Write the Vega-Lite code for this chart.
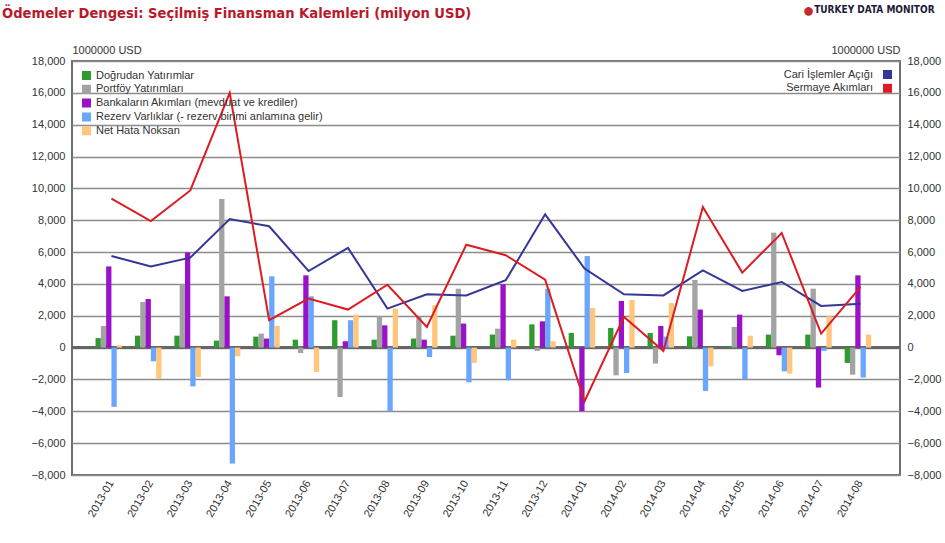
{
  "$schema": "https://vega.github.io/schema/vega-lite/v6.json",
  "width": 828,
  "height": 414,
  "autosize": {"type": "none"},
  "padding": {"left": 72, "top": 61, "right": 45, "bottom": 68},
  "background": "white",
  "config": {
    "view": {"stroke": "#6e6e6e", "strokeWidth": 2},
    "font": "Liberation Sans",
    "axis": {"labelFont": "Liberation Sans", "labelFontSize": 11, "labelColor": "#333333", "titleFont": "Liberation Sans", "titleFontSize": 11, "titleFontWeight": "normal", "titleColor": "#333333", "domain": false, "ticks": false},
    "legend": {"labelFont": "Liberation Sans", "labelFontSize": 11, "labelColor": "#333333", "padding": 0, "labelLimit": 500}
  },
  "title": {"text": "Ödemeler Dengesi: Seçilmiş Finansman Kalemleri (milyon USD)", "anchor": "start", "frame": "group", "dx": -70, "offset": -32, "baseline": "alphabetic", "font": "Liberation Sans Narrow, DejaVu Sans Condensed, Liberation Sans", "fontSize": 14.6, "fontWeight": "bold", "color": "#b8192b"},
  "datasets": {
    "d": [
      {"ay": "2013-01", "Doğrudan Yatırımlar": 600, "Portföy Yatırımları": 1360, "Bankaların Akımları (mevduat ve krediler)": 5100, "Rezerv Varlıklar (- rezerv birimi anlamına gelir)": -3720, "Net Hata Noksan": 150, "Cari İşlemler Açığı": 5750, "Sermaye Akımları": 9350},
      {"ay": "2013-02", "Doğrudan Yatırımlar": 750, "Portföy Yatırımları": 2870, "Bankaların Akımları (mevduat ve krediler)": 3050, "Rezerv Varlıklar (- rezerv birimi anlamına gelir)": -860, "Net Hata Noksan": -1950, "Cari İşlemler Açığı": 5100, "Sermaye Akımları": 7950},
      {"ay": "2013-03", "Doğrudan Yatırımlar": 750, "Portföy Yatırımları": 3980, "Bankaların Akımları (mevduat ve krediler)": 5980, "Rezerv Varlıklar (- rezerv birimi anlamına gelir)": -2430, "Net Hata Noksan": -1840, "Cari İşlemler Açığı": 5650, "Sermaye Akımları": 9870},
      {"ay": "2013-04", "Doğrudan Yatırımlar": 440, "Portföy Yatırımları": 9330, "Bankaların Akımları (mevduat ve krediler)": 3220, "Rezerv Varlıklar (- rezerv birimi anlamına gelir)": -7280, "Net Hata Noksan": -540, "Cari İşlemler Açığı": 8080, "Sermaye Akımları": 16000},
      {"ay": "2013-05", "Doğrudan Yatırımlar": 690, "Portföy Yatırımları": 880, "Bankaların Akımları (mevduat ve krediler)": 570, "Rezerv Varlıklar (- rezerv birimi anlamına gelir)": 4480, "Net Hata Noksan": 1360, "Cari İşlemler Açığı": 7620, "Sermaye Akımları": 1720},
      {"ay": "2013-06", "Doğrudan Yatırımlar": 500, "Portföy Yatırımları": -340, "Bankaların Akımları (mevduat ve krediler)": 4540, "Rezerv Varlıklar (- rezerv birimi anlamına gelir)": 3220, "Net Hata Noksan": -1530, "Cari İşlemler Açığı": 4810, "Sermaye Akımları": 3080},
      {"ay": "2013-07", "Doğrudan Yatırımlar": 1720, "Portföy Yatırımları": -3100, "Bankaların Akımları (mevduat ve krediler)": 400, "Rezerv Varlıklar (- rezerv birimi anlamına gelir)": 1720, "Net Hata Noksan": 2070, "Cari İşlemler Açığı": 6260, "Sermaye Akımları": 2390},
      {"ay": "2013-08", "Doğrudan Yatırımlar": 500, "Portföy Yatırımları": 1970, "Bankaların Akımları (mevduat ve krediler)": 1400, "Rezerv Varlıklar (- rezerv birimi anlamına gelir)": -4000, "Net Hata Noksan": 2450, "Cari İşlemler Açığı": 2450, "Sermaye Akımları": 3950},
      {"ay": "2013-09", "Doğrudan Yatırımlar": 570, "Portföy Yatırımları": 1930, "Bankaların Akımları (mevduat ve krediler)": 500, "Rezerv Varlıklar (- rezerv birimi anlamına gelir)": -590, "Net Hata Noksan": 2660, "Cari İşlemler Açığı": 3350, "Sermaye Akımları": 1300},
      {"ay": "2013-10", "Doğrudan Yatırımlar": 750, "Portföy Yatırımları": 3700, "Bankaların Akımları (mevduat ve krediler)": 1510, "Rezerv Varlıklar (- rezerv birimi anlamına gelir)": -2180, "Net Hata Noksan": -960, "Cari İşlemler Açığı": 3280, "Sermaye Akımları": 6460},
      {"ay": "2013-11", "Doğrudan Yatırımlar": 820, "Portföy Yatırımları": 1190, "Bankaların Akımları (mevduat ve krediler)": 3980, "Rezerv Varlıklar (- rezerv birimi anlamına gelir)": -2050, "Net Hata Noksan": 500, "Cari İşlemler Açığı": 4230, "Sermaye Akımları": 5800},
      {"ay": "2013-12", "Doğrudan Yatırımlar": 1460, "Portföy Yatırımları": -210, "Bankaların Akımları (mevduat ve krediler)": 1650, "Rezerv Varlıklar (- rezerv birimi anlamına gelir)": 3700, "Net Hata Noksan": 400, "Cari İşlemler Açığı": 8370, "Sermaye Akımları": 4270},
      {"ay": "2014-01", "Doğrudan Yatırımlar": 920, "Portföy Yatırımları": 0, "Bankaların Akımları (mevduat ve krediler)": -4000, "Rezerv Varlıklar (- rezerv birimi anlamına gelir)": 5750, "Net Hata Noksan": 2490, "Cari İşlemler Açığı": 4960, "Sermaye Akımları": -3370},
      {"ay": "2014-02", "Doğrudan Yatırımlar": 1230, "Portföy Yatırımları": -1740, "Bankaların Akımları (mevduat ve krediler)": 2930, "Rezerv Varlıklar (- rezerv birimi anlamına gelir)": -1590, "Net Hata Noksan": 2990, "Cari İşlemler Açığı": 3350, "Sermaye Akımları": 1930},
      {"ay": "2014-03", "Doğrudan Yatırımlar": 920, "Portföy Yatırımları": -1000, "Bankaların Akımları (mevduat ve krediler)": 1360, "Rezerv Varlıklar (- rezerv birimi anlamına gelir)": 690, "Net Hata Noksan": 2800, "Cari İşlemler Açığı": 3280, "Sermaye Akımları": -210},
      {"ay": "2014-04", "Doğrudan Yatırımlar": 710, "Portföy Yatırımları": 4250, "Bankaların Akımları (mevduat ve krediler)": 2390, "Rezerv Varlıklar (- rezerv birimi anlamına gelir)": -2720, "Net Hata Noksan": -1170, "Cari İşlemler Açığı": 4850, "Sermaye Akımları": 8830},
      {"ay": "2014-05", "Doğrudan Yatırımlar": 100, "Portföy Yatırımları": 1300, "Bankaların Akımları (mevduat ve krediler)": 2070, "Rezerv Varlıklar (- rezerv birimi anlamına gelir)": -1990, "Net Hata Noksan": 750, "Cari İşlemler Açığı": 3560, "Sermaye Akımları": 4710},
      {"ay": "2014-06", "Doğrudan Yatırımlar": 820, "Portföy Yatırımları": 7220, "Bankaların Akımları (mevduat ve krediler)": -480, "Rezerv Varlıklar (- rezerv birimi anlamına gelir)": -1490, "Net Hata Noksan": -1630, "Cari İşlemler Açığı": 4120, "Sermaye Akımları": 7200},
      {"ay": "2014-07", "Doğrudan Yatırımlar": 820, "Portföy Yatırımları": 3700, "Bankaların Akımları (mevduat ve krediler)": -2510, "Rezerv Varlıklar (- rezerv birimi anlamına gelir)": -210, "Net Hata Noksan": 1970, "Cari İşlemler Açığı": 2620, "Sermaye Akımları": 880},
      {"ay": "2014-08", "Doğrudan Yatırımlar": -960, "Portföy Yatırımları": -1700, "Bankaların Akımları (mevduat ve krediler)": 4540, "Rezerv Varlıklar (- rezerv birimi anlamına gelir)": -1880, "Net Hata Noksan": 820, "Cari İşlemler Açığı": 2760, "Sermaye Akımları": 3810}
    ]
  },
  "data": {"name": "d"},
  "layer": [
    {
      "mark": {"type": "rule", "color": "#666666", "strokeWidth": 2},
      "encoding": {"y": {"datum": 0, "type": "quantitative", "axis": null}}
    },
    {
      "transform": [{"fold": ["Doğrudan Yatırımlar", "Portföy Yatırımları", "Bankaların Akımları (mevduat ve krediler)", "Rezerv Varlıklar (- rezerv birimi anlamına gelir)", "Net Hata Noksan"], "as": ["kalem", "deger"]}],
      "mark": {"type": "bar"},
      "encoding": {
        "x": {"field": "ay", "type": "nominal", "scale": {"paddingInner": 0, "paddingOuter": 0.5}, "axis": {"labelAngle": -60, "title": null, "grid": false, "labelPadding": 6}},
        "xOffset": {"field": "kalem", "type": "nominal", "scale": {"domain": ["Doğrudan Yatırımlar", "Portföy Yatırımları", "Bankaların Akımları (mevduat ve krediler)", "Rezerv Varlıklar (- rezerv birimi anlamına gelir)", "Net Hata Noksan", "_"], "paddingInner": 0, "paddingOuter": 0.72}},
        "y": {"field": "deger", "type": "quantitative", "scale": {"domain": [-8000, 18000], "nice": false, "zero": false}, "axis": {"orient": "left", "values": [-8000, -6000, -4000, -2000, 0, 2000, 4000, 6000, 8000, 10000, 12000, 14000, 16000, 18000], "format": ",.0f", "title": "1000000 USD", "titleAngle": 0, "titleAlign": "left", "titleX": 0, "titleY": -6, "titleBaseline": "bottom", "grid": true, "gridColor": "#8c8c8c", "gridWidth": 1.5, "labelPadding": 7}},
        "color": {"field": "kalem", "type": "nominal", "scale": {"domain": ["Doğrudan Yatırımlar", "Portföy Yatırımları", "Bankaların Akımları (mevduat ve krediler)", "Rezerv Varlıklar (- rezerv birimi anlamına gelir)", "Net Hata Noksan"], "range": ["#2f9a2f", "#a3a3a3", "#9a12c8", "#6aa5ff", "#ffc67c"]}, "legend": {"orient": "top-left", "offset": 9, "title": null, "symbolType": "square", "symbolSize": 81, "symbolStrokeWidth": 0, "rowPadding": 1.8, "clipHeight": 11}}
      }
    },
    {
      "transform": [{"fold": ["Cari İşlemler Açığı", "Sermaye Akımları"], "as": ["kalem2", "deger2"]}],
      "layer": [
        {
          "mark": {"type": "square", "size": 81, "opacity": 0},
          "encoding": {
            "x": {"field": "ay", "type": "nominal"},
            "y": {"field": "deger2", "type": "quantitative", "axis": {"orient": "right", "values": [-8000, -6000, -4000, -2000, 0, 2000, 4000, 6000, 8000, 10000, 12000, 14000, 16000, 18000], "format": ",.0f", "title": "1000000 USD", "titleAngle": 0, "titleAlign": "right", "titleX": 0, "titleY": -6, "titleBaseline": "bottom", "grid": false, "labelPadding": 7}},
            "color": {"field": "kalem2", "type": "nominal", "scale": {"domain": ["Cari İşlemler Açığı", "Sermaye Akımları"], "range": ["#363696", "#dc1c22"]}, "legend": {"orient": "top-right", "offset": 8, "title": null, "symbolType": "square", "symbolSize": 81, "symbolStrokeWidth": 0, "symbolOpacity": 1, "labelAlign": "right", "labelOffset": -20, "rowPadding": 1.8}}
          }
        },
        {
          "mark": {"type": "line", "strokeWidth": 2},
          "encoding": {
            "x": {"field": "ay", "type": "nominal", "axis": {"labelAngle": -60, "title": null, "grid": false, "labelPadding": 6}},
            "y": {"field": "deger2", "type": "quantitative", "axis": {"orient": "right", "values": [-8000, -6000, -4000, -2000, 0, 2000, 4000, 6000, 8000, 10000, 12000, 14000, 16000, 18000], "format": ",.0f", "title": "1000000 USD", "titleAngle": 0, "titleAlign": "right", "titleX": 0, "titleY": -6, "titleBaseline": "bottom", "grid": false, "labelPadding": 7}},
            "color": {"field": "kalem2", "type": "nominal", "legend": null}
          }
        }
      ]
    },
    {
      "data": {"values": [{"t": "TURKEY DATA MONITOR"}]},
      "mark": {"type": "text", "align": "right", "baseline": "middle", "dx": 74, "dy": -51, "font": "Liberation Sans Narrow, DejaVu Sans Condensed, Liberation Sans", "fontWeight": "bold", "fontSize": 10, "color": "#1c1c3c", "clip": false},
      "encoding": {"x": {"datum": "2014-08", "type": "nominal"}, "y": {"datum": 18000, "type": "quantitative", "axis": null}, "text": {"field": "t"}}
    },
    {
      "data": {"values": [{"t": "●"}]},
      "mark": {"type": "text", "align": "center", "baseline": "middle", "dx": -52, "dy": -50, "fontSize": 20, "color": "#c42a30"},
      "encoding": {"x": {"datum": "2014-08", "type": "nominal"}, "y": {"datum": 18000, "type": "quantitative", "axis": null}, "text": {"field": "t"}}
    }
  ],
  "resolve": {"scale": {"color": "independent"}, "axis": {"y": "independent"}}
}
